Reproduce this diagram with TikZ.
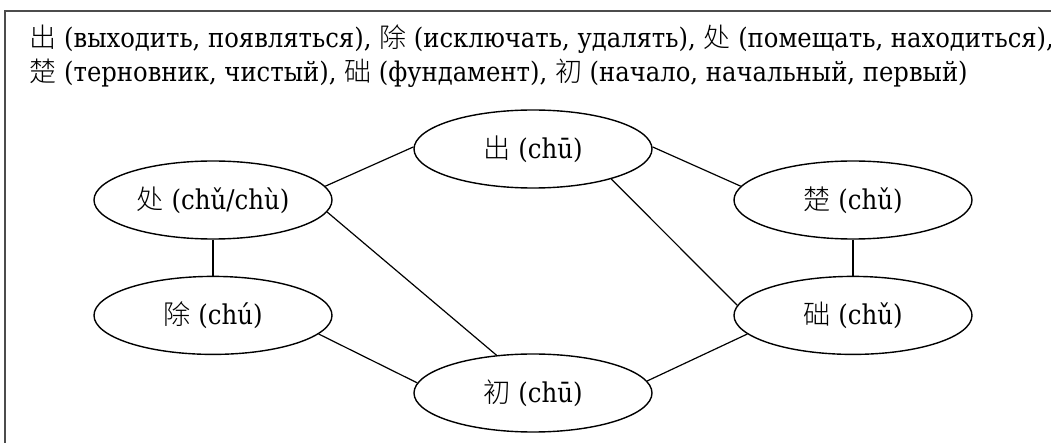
\documentclass[tikz,border=0pt]{standalone}
\usepackage{fontspec}
\setmainfont{DejaVu Serif Condensed}
\newfontfamily\cjk{Noto Sans CJK SC Light}
\usetikzlibrary{positioning,shapes.geometric}
\tikzset{
    wordnode/.style={ellipse,draw,line width=0.7pt,minimum width=119pt,minimum height=39pt,inner sep=1pt,font=\fontsize{13.6}{16}\selectfont},
    wordlink/.style={line width=0.6pt},
    headline/.style={anchor=base west,inner sep=0pt,font=\fontsize{13.5}{16}\selectfont},
    framerule/.style={draw=black!70,line width=1pt}
}

\begin{document}
\begin{tikzpicture}[x=0.5pt,y=-0.5pt,node distance=18pt]
    \useasboundingbox (0,0) rectangle (1051,443);
    \draw[framerule] (1051,11) -- (5,11) -- (5,443);
    % glossary lines
    \node[headline] (lineA) at (29,48) {{\cjk 出} (выходить, появляться), {\cjk 除} (исключать, удалять), {\cjk 处} (помещать, находиться),};
    \node[headline] (lineB) at (29,82) {{\cjk 楚} (терновник, чистый), {\cjk 础} (фундамент), {\cjk 初} (начало, начальный, первый)};
    % the six characters
    \node[wordnode] (chuOut) at (533,149) {{\cjk 出} (chū)};
    \node[wordnode] (chuPlace) at (213,200) {{\cjk 处} (chǔ/chù)};
    \node[wordnode,below=of chuPlace] (chuRemove) {{\cjk 除} (chú)};
    \node[wordnode] (chuFirst) at (533,393) {{\cjk 初} (chū)};
    \node[wordnode] (chuThorn) at (853,200) {{\cjk 楚} (chǔ)};
    \node[wordnode,below=of chuThorn] (chuBase) {{\cjk 础} (chǔ)};
    % links
    \draw[wordlink] (chuPlace.7) -- (chuOut.179);
    \draw[wordlink] (chuOut.1) -- (chuThorn.173);
    \draw[wordlink] (chuOut.-21) -- (chuBase.175);
    \draw[wordlink] (chuPlace.south) -- (chuRemove.north);
    \draw[wordlink] (chuThorn.south) -- (chuBase.north);
    \draw[wordlink] (chuPlace.-6) -- (chuFirst.134);
    \draw[wordlink] (chuRemove.-10) -- (chuFirst.175);
    \draw[wordlink] (chuBase.190) -- (chuFirst.6);
\end{tikzpicture}
\end{document}
